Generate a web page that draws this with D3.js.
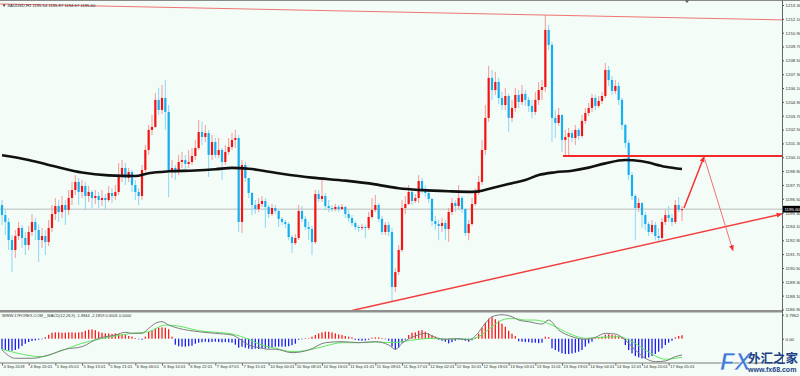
<!DOCTYPE html>
<html>
<head>
<meta charset="utf-8">
<script src="https://cdn.jsdelivr.net/npm/d3@7"></script>
<style>
body { margin: 0; background: #fff; }
svg { display: block; font-family: "Liberation Sans", Arial, sans-serif; }
</style>
</head>
<body>
<svg id="chart" width="800" height="376"></svg>
<script>
// XAUUSD H1 candles, bar 0 = 4 Sep 2018 12:00
var firstOpen = 1195.96;
var closes = [
    1195.09, 1194.49, 1192.92, 1192.06, 1193.27, 1193.97, 1193.10, 1192.49, 1193.62, 1194.49,
    1193.79, 1192.92, 1193.27, 1192.75, 1193.97, 1195.18, 1195.87, 1195.35, 1195.96, 1195.53,
    1196.57, 1197.26, 1197.96, 1197.09, 1197.61, 1196.74, 1197.09, 1196.57, 1196.74, 1196.39,
    1196.57, 1196.39, 1197.00, 1196.74, 1197.09, 1198.39, 1199.17, 1198.30, 1198.82, 1197.69,
    1197.09, 1196.74, 1199.00, 1200.73, 1202.47, 1202.73, 1205.07, 1204.20, 1205.24, 1204.03,
    1198.82, 1199.17, 1198.82, 1199.69, 1199.86, 1199.52, 1199.69, 1200.21, 1200.90, 1202.29,
    1201.86, 1202.20, 1200.30, 1201.42, 1200.30, 1200.73, 1199.69, 1200.56, 1200.99, 1201.60,
    1201.77, 1194.49, 1199.43, 1198.30, 1197.00, 1195.96, 1195.61, 1196.05, 1196.31, 1195.79,
    1195.18, 1195.70, 1195.44, 1194.75, 1194.49, 1194.31, 1193.18, 1192.66, 1193.10, 1195.44,
    1194.75, 1194.05, 1193.88, 1192.75, 1196.91, 1196.48, 1196.74, 1195.87, 1195.70, 1195.61,
    1195.79, 1195.61, 1195.79, 1195.18, 1194.83, 1194.40, 1194.05, 1193.97, 1194.05, 1193.97,
    1194.92, 1195.53, 1195.96, 1194.75, 1193.62, 1194.23, 1193.62, 1188.85, 1190.15, 1192.06,
    1195.70, 1196.05, 1197.09, 1196.31, 1196.57, 1198.04, 1197.26, 1197.00, 1196.48, 1194.57,
    1194.31, 1194.14, 1194.40, 1193.88, 1195.35, 1196.13, 1195.87, 1196.57, 1195.61, 1193.53,
    1194.31, 1196.05, 1197.00, 1197.96, 1200.73, 1203.51, 1206.98, 1205.93, 1206.63, 1205.24,
    1204.63, 1205.41, 1203.51, 1204.37, 1205.50, 1204.89, 1205.59, 1205.07, 1204.55, 1204.03,
    1205.07, 1205.93, 1206.19, 1211.14, 1209.84, 1203.51, 1203.07, 1203.77, 1201.60, 1201.86,
    1202.20, 1201.77, 1202.47, 1201.94, 1203.25, 1203.94, 1204.37, 1205.24, 1204.55, 1204.98,
    1205.41, 1207.67, 1206.80, 1205.85, 1206.28, 1205.07, 1202.90, 1201.34, 1198.56, 1196.74,
    1195.70, 1196.13, 1195.09, 1194.31, 1193.62, 1194.23, 1193.27, 1193.10, 1194.49, 1195.09,
    1194.83, 1194.49, 1195.96, 1195.54, 1195.60
];
var highs = [
    1196.39, 1195.53, 1194.83, 1193.36, 1193.79, 1194.49, 1194.23, 1193.62, 1194.14, 1195.18,
    1194.83, 1194.23, 1193.97, 1193.79, 1194.66, 1195.96, 1196.57, 1196.39, 1196.74, 1196.39,
    1197.26, 1197.96, 1198.56, 1198.30, 1198.13, 1197.96, 1197.61, 1197.26, 1197.26, 1197.09,
    1197.26, 1196.91, 1197.61, 1197.43, 1197.69, 1199.60, 1199.86, 1199.60, 1199.17, 1199.00,
    1198.13, 1197.43, 1199.43, 1201.16, 1202.90, 1203.77, 1205.67, 1206.11, 1206.37, 1206.80,
    1204.63, 1199.86, 1199.43, 1200.30, 1200.56, 1200.30, 1200.73, 1200.90, 1201.60, 1203.33,
    1203.16, 1202.90, 1202.47, 1202.03, 1201.77, 1201.77, 1200.90, 1201.16, 1201.77, 1202.20,
    1202.47, 1202.03, 1199.86, 1199.69, 1198.30, 1197.09, 1196.39, 1196.57, 1196.74, 1196.57,
    1195.96, 1196.05, 1195.96, 1195.53, 1194.92, 1194.66, 1194.49, 1193.36, 1193.45, 1195.96,
    1195.87, 1195.01, 1194.49, 1194.14, 1197.26, 1197.26, 1198.13, 1197.00, 1196.39, 1195.96,
    1196.05, 1195.96, 1196.05, 1195.87, 1195.53, 1195.09, 1194.57, 1194.23, 1194.31, 1194.23,
    1195.35, 1196.57, 1196.83, 1196.13, 1195.01, 1194.49, 1194.49, 1193.97, 1190.50, 1192.49,
    1196.39, 1196.74, 1197.69, 1197.26, 1196.91, 1198.56, 1198.30, 1197.69, 1197.35, 1196.57,
    1195.01, 1194.66, 1194.83, 1194.66, 1195.70, 1196.57, 1196.39, 1197.69, 1196.74, 1195.70,
    1194.66, 1196.57, 1197.43, 1198.48, 1201.60, 1204.63, 1208.02, 1207.67, 1207.50, 1206.98,
    1205.76, 1206.11, 1205.59, 1205.07, 1206.11, 1205.93, 1206.37, 1205.93, 1205.33, 1205.07,
    1205.76, 1206.63, 1206.80, 1212.44, 1211.57, 1210.10, 1204.20, 1204.37, 1203.77, 1202.47,
    1202.64, 1202.47, 1202.90, 1202.64, 1203.77, 1204.37, 1204.81, 1205.59, 1205.50, 1205.41,
    1205.76, 1208.28, 1208.02, 1207.15, 1206.80, 1206.63, 1205.24, 1202.99, 1201.60, 1198.82,
    1196.91, 1196.57, 1196.22, 1195.35, 1194.49, 1194.66, 1194.49, 1193.97, 1194.83, 1195.53,
    1195.87, 1195.18, 1196.39, 1196.65, 1195.87
];
var lows = [
    1194.23, 1193.36, 1192.06, 1190.15, 1191.36, 1192.92, 1192.23, 1191.62, 1192.06, 1193.27,
    1192.92, 1191.02, 1192.23, 1191.62, 1192.40, 1193.62, 1194.66, 1194.49, 1194.83, 1194.23,
    1195.09, 1195.96, 1196.83, 1195.96, 1196.57, 1195.53, 1196.22, 1195.70, 1196.05, 1195.70,
    1195.87, 1195.53, 1196.22, 1196.13, 1196.39, 1196.83, 1197.96, 1197.69, 1197.96, 1197.09,
    1196.39, 1195.96, 1196.39, 1198.82, 1200.30, 1202.03, 1202.64, 1203.77, 1203.85, 1202.47,
    1196.65, 1198.30, 1198.13, 1198.56, 1199.17, 1198.82, 1199.17, 1199.43, 1199.86, 1200.73,
    1201.16, 1201.42, 1198.39, 1199.86, 1200.04, 1200.04, 1198.13, 1199.43, 1200.30, 1200.73,
    1200.90, 1193.62, 1193.53, 1197.96, 1196.57, 1195.09, 1195.18, 1195.35, 1195.79, 1193.97,
    1194.83, 1195.01, 1195.18, 1194.05, 1194.23, 1193.97, 1192.92, 1191.80, 1192.49, 1192.92,
    1194.49, 1193.79, 1192.92, 1191.62, 1192.58, 1196.22, 1196.22, 1195.53, 1195.35, 1195.35,
    1195.44, 1195.35, 1195.53, 1194.83, 1194.49, 1194.14, 1193.79, 1193.62, 1193.79, 1193.10,
    1193.79, 1194.75, 1195.35, 1194.49, 1193.36, 1193.36, 1193.27, 1187.55, 1188.42, 1189.89,
    1191.88, 1195.18, 1195.96, 1195.96, 1196.13, 1196.13, 1196.91, 1196.65, 1196.13, 1194.14,
    1193.79, 1192.92, 1193.62, 1192.92, 1192.75, 1195.09, 1195.35, 1195.53, 1195.27, 1193.27,
    1192.92, 1194.14, 1195.87, 1196.83, 1197.69, 1200.30, 1203.16, 1205.07, 1205.50, 1204.72,
    1204.20, 1204.20, 1202.29, 1203.16, 1204.03, 1204.37, 1204.63, 1204.55, 1204.03, 1203.51,
    1203.77, 1204.63, 1205.07, 1205.76, 1209.40, 1201.42, 1201.77, 1202.81, 1200.56, 1200.21,
    1200.21, 1201.42, 1201.16, 1201.60, 1201.77, 1202.99, 1203.68, 1204.03, 1204.20, 1204.37,
    1204.72, 1205.24, 1206.28, 1205.50, 1205.59, 1204.63, 1202.47, 1200.90, 1198.13, 1196.39,
    1192.92, 1195.35, 1193.97, 1193.79, 1193.27, 1193.45, 1192.92, 1192.84, 1192.92, 1194.23,
    1194.49, 1194.14, 1194.31, 1195.35, 1194.57
];

// black moving average, [bar, price]
var maLine = [
    [0, 1200.27], [8, 1199.86], [16, 1199.29], [24, 1198.77], [32, 1198.53], [40, 1198.47],
    [44, 1198.72], [50, 1198.88], [58, 1198.95], [64, 1199.06], [69, 1199.18], [74, 1199.10],
    [83, 1198.71], [93, 1198.33], [103, 1198.07], [112, 1197.75], [119, 1197.41], [126, 1197.25],
    [134, 1197.15], [141, 1197.10], [144, 1197.20], [148, 1197.50], [153, 1197.85], [157, 1198.13],
    [161, 1198.56], [166, 1198.80], [171, 1198.93], [176, 1199.20], [181, 1199.57], [187, 1199.86],
    [192, 1199.75], [199, 1199.28], [204, 1199.08]
];

// MACD histogram, one value per bar
var macdHist = [
    -1.69, -1.79, -1.90, -1.90, -1.79, -1.58, -1.15, -0.79, -0.52, -0.36,
    -0.27, -0.16, -0.05, 0.24, 0.63, 0.95, 1.00, 1.00, 0.95, 0.95,
    1.00, 1.00, 0.95, 1.00, 1.06, 1.26, 1.42, 1.47, 1.34, 1.11,
    0.95, 0.84, 0.84, 0.74, 0.84, 0.74, 0.68, 0.58, 0.43, 0.32,
    0.11, -0.08, -0.16, 0.32, 1.11, 1.37, 1.63, 1.74, 1.79, 1.74,
    1.50, 0.32, -0.95, -1.19, -1.26, -1.26, -1.19, -1.11, -0.79, -0.63,
    -0.55, -0.47, -0.55, -0.52, -0.47, -0.52, -0.58, -0.52, -0.58, -0.63,
    -0.95, -1.42, -1.26, -1.42, -1.58, -1.66, -1.58, -1.63, -1.53, -1.53,
    -1.53, -1.42, -1.26, -1.26, -1.26, -1.26, -1.19, -1.03, -0.79, -0.16,
    -0.08, 0.05, 0.08, 0.32, 0.58, 0.84, 1.00, 1.11, 1.11, 1.00,
    0.84, 0.68, 0.58, 0.43, 0.32, 0.21, -0.16, -0.27, -0.32, -0.27,
    -0.16, 0.16, 0.21, 0.21, 0.11, -0.05, -0.32, -1.26, -1.74, -1.42,
    -0.63, -0.16, 0.58, 0.95, 1.00, 1.26, 1.37, 1.11, 0.84, 0.58,
    0.32, -0.16, -0.32, -0.47, -0.74, -0.55, -0.32, -0.16, -0.21, -0.32,
    -0.47, -0.24, 0.16, 0.79, 1.74, 2.53, 3.16, 3.40, 3.08, 2.84,
    2.37, 1.90, 1.26, 0.79, 0.40, -0.40, -0.47, -0.52, -0.55, -0.63,
    -0.63, -0.71, -0.63, 0.32, 0.24, -1.53, -1.79, -2.05, -2.32, -2.42,
    -2.42, -2.32, -2.21, -2.05, -1.79, -1.26, -0.74, -0.47, 0.08, 0.13,
    0.32, 0.63, 0.68, 0.63, 0.52, 0.36, 0.16, -1.00, -1.79, -2.32,
    -2.74, -2.96, -3.12, -3.12, -2.96, -2.74, -2.42, -2.05, -1.53, -1.00,
    -0.63, -0.32, 0.21, 0.43, 0.55
];
var macdMain = [
    [0, -1.79], [4, -3.10], [9, -3.10], [14, -2.58], [19, -1.67], [24, -1.26], [29, 0.06],
    [34, 0.58], [37, 1.01], [39, 0.85], [42, 0.85], [44, 1.64], [46, 2.43], [48, 2.69],
    [50, 2.16], [53, 1.64], [59, 1.11], [64, 0.85], [69, 0.58], [71, 0.06], [74, -1.00],
    [77, -1.40], [80, -1.67], [82, -1.67], [87, -2.21], [92, -1.79], [97, -0.63], [102, -0.47],
    [107, -0.63], [112, -0.47], [116, -1.00], [118, -1.67], [120, -0.73], [124, 0.43], [127, 0.85],
    [130, 0.22], [133, -0.09], [137, 0.00], [140, -0.21], [142, 0.43], [145, 2.43], [147, 3.48],
    [150, 3.79], [153, 3.48], [155, 2.95], [158, 2.69], [162, 2.32], [164, 2.95], [167, 1.37],
    [171, 0.32], [175, -0.09], [178, 0.22], [181, 0.85], [184, 0.74], [187, -0.21], [190, -1.79],
    [193, -3.10], [196, -3.63], [199, -3.52], [202, -2.84], [204, -2.58]
];
var macdSignal = [
    [0, -1.67], [4, -2.21], [9, -2.73], [12, -2.84], [17, -2.05], [24, -0.73], [29, -0.09],
    [34, 0.43], [39, 0.85], [44, 1.11], [49, 2.16], [54, 1.90], [59, 1.26], [64, 1.01],
    [69, 0.74], [74, -0.09], [77, -0.84], [82, -1.50], [87, -2.05], [92, -1.79], [97, -1.15],
    [102, -0.63], [107, -0.63], [112, -0.52], [117, -0.63], [120, -0.47], [125, -0.09], [129, 0.06],
    [133, -0.09], [137, 0.00], [141, -0.09], [143, 0.32], [147, 1.90], [150, 2.95], [153, 3.22],
    [157, 2.95], [160, 2.95], [165, 2.16], [170, 0.85], [175, 0.06], [180, 0.22], [185, 0.32],
    [189, -0.47], [193, -1.79], [196, -2.73], [199, -3.25], [202, -3.10], [204, -2.94]
];

// hand drawn objects, [bar, price]
var trendTop = [[-0.6, 1213.39], [234, 1212.01]];
var trendBottom = [[105, 1186.81], [234, 1195.18]];
var levelLine = [[168.3, 1200.21], [234, 1200.21]];
var projUp = [[204.6, 1195.70], [210.6, 1200.15]];
var projDown = [[210.6, 1200.15], [219.3, 1192.00]];

var priceTicks = [1213.3, 1212.1, 1210.9, 1209.7, 1208.5, 1207.3, 1206.1, 1204.9, 1203.7, 1202.5,
    1201.3, 1200.1, 1198.9, 1197.7, 1196.5, 1195.3, 1194.1, 1192.9, 1191.7, 1190.5,
    1189.3, 1188.1, 1186.9];
var macdTicks = [3.7962, 0];
var timeIdx = [0, 8, 16, 24, 32, 40, 48, 56, 64, 72, 80, 88, 96, 104, 112, 120, 128, 136,
    144, 152, 160, 168, 176, 184, 192, 200];
var timeLabels = ["4 Sep 2018", "4 Sep 20:01", "5 Sep 05:01", "5 Sep 13:01", "5 Sep 21:01",
    "6 Sep 06:01", "6 Sep 14:01", "6 Sep 22:01", "7 Sep 07:01", "7 Sep 15:01", "10 Sep 00:01",
    "10 Sep 08:01", "10 Sep 16:01", "11 Sep 01:01", "11 Sep 09:01", "11 Sep 17:01", "12 Sep 02:01",
    "12 Sep 10:01", "12 Sep 18:01", "13 Sep 03:01", "13 Sep 11:01", "13 Sep 19:01", "14 Sep 04:01",
    "14 Sep 12:01", "14 Sep 20:01", "17 Sep 05:01"];
var lastPrice = 1195.60;

var svg = d3.select("#chart");
var plotRight = 782, mainTop = 2, mainBottom = 310, macdTop = 312.5, macdBottom = 362.5;

var x = d3.scaleLinear().domain([0, 204]).range([2, 682]);
var y = d3.scaleLinear().domain([1186.9, 1213.3]).range([309.5, 5]);
var ym = d3.scaleLinear().domain([0, 3.7962]).range([338.7, 314.7]);

svg.append("rect").attr("width", 800).attr("height", 376).attr("fill", "#f3fcf7");

var defs = svg.append("defs");
defs.append("clipPath").attr("id", "clip-main").append("rect")
    .attr("x", 0).attr("y", mainTop).attr("width", plotRight).attr("height", mainBottom - mainTop);
defs.append("clipPath").attr("id", "clip-macd").append("rect")
    .attr("x", 0).attr("y", macdTop).attr("width", plotRight).attr("height", macdBottom - macdTop);

function addArrow(id, color) {
    defs.append("marker")
        .attr("id", id)
        .attr("viewBox", "0 0 10 10")
        .attr("refX", 9).attr("refY", 5)
        .attr("markerUnits", "userSpaceOnUse")
        .attr("markerWidth", 6).attr("markerHeight", 6)
        .attr("orient", "auto")
        .append("path")
        .attr("d", "M0,1 L10,5 L0,9 z")
        .attr("fill", color);
}
addArrow("arrow-red", "#f43030");

var line = d3.line().x(function(d) { return x(d[0]); }).y(function(d) { return y(d[1]); });
var macdLine = d3.line().x(function(d) { return x(d[0]); }).y(function(d) { return ym(d[1]); })
    .curve(d3.curveMonotoneX);

// frame
svg.append("rect").attr("x", 0).attr("y", 0).attr("width", 800).attr("height", 1).attr("fill", "#8a8a8a");
svg.append("rect").attr("x", 0).attr("y", mainBottom).attr("width", plotRight).attr("height", 2.5).attr("fill", "#8f8f8f");
svg.append("rect").attr("x", 0).attr("y", macdBottom).attr("width", plotRight).attr("height", 1).attr("fill", "#7a7a7a");
svg.append("line").attr("x1", plotRight + 0.5).attr("x2", plotRight + 0.5).attr("y1", 0).attr("y2", macdBottom + 1)
    .attr("stroke", "#666").attr("stroke-width", 1);

var main = svg.append("g").attr("clip-path", "url(#clip-main)");

// current price line
main.append("line")
    .attr("x1", 0).attr("x2", plotRight)
    .attr("y1", y(lastPrice)).attr("y2", y(lastPrice))
    .attr("stroke", "#b9bcbb").attr("stroke-width", 1);

// candles
var bars = closes.map(function(c, i) {
    return { i: i, o: i > 0 ? closes[i - 1] : firstOpen, c: c, h: highs[i], l: lows[i] };
});
var upColor = "#f21414", downColor = "#17aef0";

main.selectAll("line.wick")
    .data(bars)
    .enter().append("line")
    .attr("class", "wick")
    .attr("x1", function(d) { return x(d.i); })
    .attr("x2", function(d) { return x(d.i); })
    .attr("y1", function(d) { return y(d.h); })
    .attr("y2", function(d) { return y(d.l); })
    .attr("stroke", function(d) { return d.c >= d.o ? "#f59a9a" : "#8fd5f5"; })
    .attr("stroke-width", 1);

main.selectAll("rect.body")
    .data(bars)
    .enter().append("rect")
    .attr("class", "body")
    .attr("x", function(d) { return x(d.i) - 1.1; })
    .attr("width", 2.2)
    .attr("y", function(d) { return y(Math.max(d.o, d.c)); })
    .attr("height", function(d) { return Math.max(1, Math.abs(y(d.o) - y(d.c))); })
    .attr("fill", function(d) { return d.c >= d.o ? upColor : downColor; });

// moving average
main.append("path")
    .datum(maLine)
    .attr("d", line.curve(d3.curveMonotoneX))
    .attr("fill", "none")
    .attr("stroke", "#111")
    .attr("stroke-width", 2.6);
line.curve(d3.curveLinear);

// drawn objects
main.append("path").datum(trendTop).attr("d", line)
    .attr("fill", "none").attr("stroke", "#f07474").attr("stroke-width", 1);
main.append("path").datum(trendBottom).attr("d", line)
    .attr("fill", "none").attr("stroke", "#f43c3c").attr("stroke-width", 1.4)
    .attr("marker-end", "url(#arrow-red)");
main.append("path").datum(levelLine).attr("d", line)
    .attr("fill", "none").attr("stroke", "#f42a2a").attr("stroke-width", 2);
main.append("path").datum(projUp).attr("d", line)
    .attr("fill", "none").attr("stroke", "#f43030").attr("stroke-width", 1.5)
    .attr("marker-end", "url(#arrow-red)");
main.append("path").datum(projDown).attr("d", line)
    .attr("fill", "none").attr("stroke", "#f27070").attr("stroke-width", 1)
    .attr("marker-end", "url(#arrow-red)");

// MACD window
var macd = svg.append("g").attr("clip-path", "url(#clip-macd)");
macd.selectAll("rect.hist")
    .data(macdHist)
    .enter().append("rect")
    .attr("class", "hist")
    .attr("x", function(d, i) { return x(i) - 0.65; })
    .attr("width", 1.3)
    .attr("y", function(d) { return Math.min(ym(d), ym(0)); })
    .attr("height", function(d) { return Math.max(0.6, Math.abs(ym(d) - ym(0))); })
    .attr("fill", function(d) { return d >= 0 ? "#ff1a1a" : "#1f1ff2"; });
macd.append("path").datum(macdSignal).attr("d", macdLine)
    .attr("fill", "none").attr("stroke", "#5fe85f").attr("stroke-width", 1);
macd.append("path").datum(macdMain).attr("d", macdLine)
    .attr("fill", "none").attr("stroke", "#7d7d7d").attr("stroke-width", 1);

// axes
function styleAxis(g, size) {
    g.select(".domain").remove();
    g.selectAll(".tick line").attr("stroke", "#555");
    g.selectAll(".tick text").attr("fill", "#333").attr("font-size", size)
        .attr("font-family", "Liberation Sans, Arial, sans-serif");
}
svg.append("g")
    .attr("transform", "translate(" + plotRight + ",0)")
    .call(d3.axisRight(y).tickValues(priceTicks).tickFormat(d3.format(".2f")).tickSize(2).tickPadding(1.5))
    .call(styleAxis, 4.4);
svg.append("g")
    .attr("transform", "translate(" + plotRight + ",0)")
    .call(d3.axisRight(ym).tickValues(macdTicks)
        .tickFormat(function(d) { return d === 0 ? "0.00" : d3.format(".4f")(d); })
        .tickSize(2).tickPadding(1.5))
    .call(styleAxis, 4.4);
var timeAxis = svg.append("g")
    .attr("transform", "translate(0," + (macdBottom + 1) + ")")
    .call(d3.axisBottom(x).tickValues(timeIdx)
        .tickFormat(function(d, k) { return timeLabels[k]; }).tickSize(2))
    .call(styleAxis, 4.1);
timeAxis.selectAll(".tick text").attr("text-anchor", "start").attr("dx", 1).attr("dy", "-0.1em");

// current price tag
svg.append("rect")
    .attr("x", plotRight + 1).attr("y", y(lastPrice) - 3.3)
    .attr("width", 17).attr("height", 6.6).attr("fill", "#000");
svg.append("text")
    .attr("x", plotRight + 2.5).attr("y", y(lastPrice) + 1.6)
    .attr("font-size", 4.4).attr("fill", "#fff")
    .text(d3.format(".2f")(lastPrice));

// titles
svg.append("text")
    .attr("x", 2).attr("y", 6.5).attr("font-size", 4.2).attr("fill", "#222")
    .text("\u25BC XAUUSD,H1  1195.54 1195.87 1194.57 1195.60");
svg.append("text")
    .attr("x", 2).attr("y", 317).attr("font-size", 4).attr("fill", "#333")
    .text("WWW.17FOREX.COM__MACD(12,26,9) -1.8844 -2.1859 0.6001 0.0000");

// shift marker
svg.append("path")
    .attr("d", d3.line()([[685, 0.5], [689, 0.5], [687, 3]]) + "Z")
    .attr("fill", "#555");

// watermark
var wm = svg.append("g");
wm.append("text")
    .attr("x", 720).attr("y", 370)
    .attr("font-size", 24).attr("font-weight", "bold").attr("font-style", "italic")
    .attr("font-family", "Liberation Sans, Arial, sans-serif")
    .attr("fill", "#3d7ad6").attr("stroke", "#fff").attr("stroke-width", 0.6)
    .text("FX");
wm.append("text")
    .attr("x", 748).attr("y", 363)
    .attr("font-size", 12.5).attr("font-weight", "bold")
    .attr("font-family", "Noto Sans CJK SC, sans-serif")
    .attr("fill", "#1d3f86")
    .text("外汇之家");
wm.append("text")
    .attr("x", 748).attr("y", 372)
    .attr("font-size", 7).attr("font-weight", "bold")
    .attr("fill", "#1d3f86")
    .text("www.fx68.com");
</script>
</body>
</html>
